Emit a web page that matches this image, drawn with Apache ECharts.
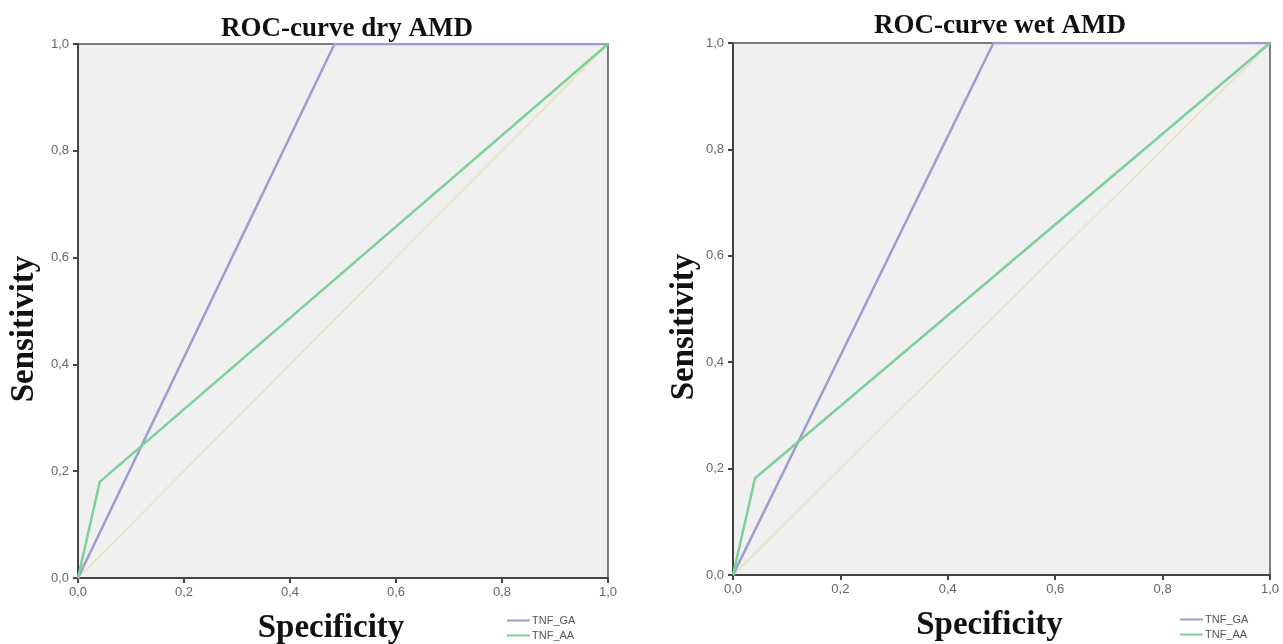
<!DOCTYPE html>
<html>
<head>
<meta charset="utf-8">
<script src="https://cdn.jsdelivr.net/npm/echarts@6/dist/echarts.min.js"></script>
<style>
html,body{margin:0;padding:0;background:#fff;}
#c{width:1283px;height:644px;}
</style>
</head>
<body>
<div id="c"></div>
<script>
// Data (x = 1 - specificity, y = sensitivity)
var tickLabels = ['0,0','0,2','0,4','0,6','0,8','1,0'];
var titles = ['ROC-curve dry AMD', 'ROC-curve wet AMD'];
var seriesNames = ['TNF_GA', 'TNF_AA'];
var dryGA = [[0, 0], [0.484, 1.0], [1.0, 1.0]];
var dryAA = [[0, 0], [0.041, 0.18], [1.0, 1.0]];
var wetGA = [[0, 0], [0.485, 1.0], [1.0, 1.0]];
var wetAA = [[0, 0], [0.041, 0.182], [1.0, 1.0]];
var reference = [[0, 0], [1, 1]];

var colGA = '#9a9dd0';
var colAA = '#7cd098';
var colRef = '#e8e4c6';

function fmt(v){ return tickLabels[Math.round(v / 0.2)]; }

function xAxis(idx){
  return {
    type:'value', gridIndex: idx, min:0, max:1, interval:0.2,
    name:'Specificity', nameLocation:'middle', nameGap: 34,
    nameTextStyle:{fontFamily:'Liberation Serif', fontWeight:'bold', fontSize:33, color:'#111', padding:[0, 24, 0, 0]},
    axisLine:{show:true, onZero:false, lineStyle:{color:'#444', width:2}},
    axisTick:{show:true, inside:false, length:5, lineStyle:{color:'#444', width:2}},
    axisLabel:{color:'#666', fontSize:13, fontFamily:'Liberation Sans', margin:8, formatter: fmt},
    splitLine:{show:false}
  };
}
function yAxis(idx, gap){
  return {
    type:'value', gridIndex: idx, min:0, max:1, interval:0.2,
    name:'Sensitivity', nameLocation:'middle', nameGap: gap, nameRotate: 90,
    nameTextStyle:{fontFamily:'Liberation Serif', fontWeight:'bold', fontSize:33, color:'#111', padding:[0, 36, 0, 0]},
    axisLine:{show:true, onZero:false, lineStyle:{color:'#444', width:2}},
    axisTick:{show:true, inside:false, length:5, lineStyle:{color:'#444', width:2}},
    axisLabel:{color:'#666', fontSize:13, fontFamily:'Liberation Sans', margin:9, formatter: fmt},
    splitLine:{show:false}
  };
}
function line(name, data, color, idx){
  return {
    type:'line', name:name, data:data, xAxisIndex:idx, yAxisIndex:idx,
    showSymbol:false, symbol:'none', silent:true,
    lineStyle:{color:color, width:2.5}, itemStyle:{color:color}, z: 3
  };
}

var option = {
  animation:false,
  backgroundColor:'#ffffff',
  title:[
    {text:titles[0], left:342, top:11, textAlign:'center',
     textStyle:{fontFamily:'Liberation Serif', fontWeight:'bold', fontSize:27, color:'#111'}},
    {text:titles[1], left:995, top:8, textAlign:'center',
     textStyle:{fontFamily:'Liberation Serif', fontWeight:'bold', fontSize:27, color:'#111'}}
  ],
  grid:[
    {left:78, top:44, width:530, height:534, show:true, backgroundColor:'#f0f0f0', borderColor:'#555', borderWidth:1.5, outerBoundsMode:'none', containLabel:false},
    {left:733, top:43, width:537, height:532, show:true, backgroundColor:'#f0f0f0', borderColor:'#555', borderWidth:1.5, outerBoundsMode:'none', containLabel:false}
  ],
  legend:[
    {data:seriesNames, orient:'vertical', left:507, top:615, itemGap:4, itemWidth:23, itemHeight:2,
     icon:'rect', textStyle:{fontSize:11, color:'#555', fontFamily:'Liberation Sans', padding:[0,0,0,-3]}, padding:0},
    {data:seriesNames, orient:'vertical', left:1180, top:614, itemGap:4, itemWidth:23, itemHeight:2,
     icon:'rect', textStyle:{fontSize:11, color:'#555', fontFamily:'Liberation Sans', padding:[0,0,0,-3]}, padding:0}
  ],
  xAxis:[xAxis(0), xAxis(1)],
  yAxis:[yAxis(0, 37), yAxis(1, 32)],
  series:[
    {type:'line', name:'ref', data:reference, xAxisIndex:0, yAxisIndex:0, showSymbol:false, symbol:'none', silent:true,
     lineStyle:{color:colRef, width:2}, z:2},
    line(seriesNames[0], dryGA, colGA, 0),
    line(seriesNames[1], dryAA, colAA, 0),
    {type:'line', name:'ref', data:reference, xAxisIndex:1, yAxisIndex:1, showSymbol:false, symbol:'none', silent:true,
     lineStyle:{color:colRef, width:2}, z:2},
    line(seriesNames[0], wetGA, colGA, 1),
    line(seriesNames[1], wetAA, colAA, 1)
  ]
};
var chart = echarts.init(document.getElementById('c'), null, {renderer:'canvas'});
chart.setOption(option);
</script>
</body>
</html>
